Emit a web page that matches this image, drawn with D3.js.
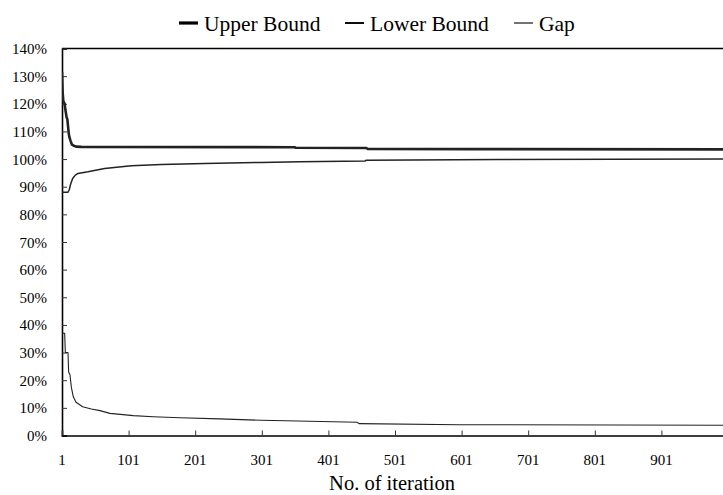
<!DOCTYPE html>
<html><head><meta charset="utf-8">
<script src="https://cdn.jsdelivr.net/npm/d3@7"></script>
<style>body{margin:0;background:#fff}svg{display:block}</style>
</head><body><svg id="c" width="723" height="495"></svg>
<script>
const yTicks = [0,10,20,30,40,50,60,70,80,90,100,110,120,130,140];
const xTicks = [1,101,201,301,401,501,601,701,801,901];
const seriesNames = ["Upper Bound","Lower Bound","Gap"];

const ubIter = [1,2,3,5,6,8,9,11,12,14,16,19,22,30,350,352,458,460,620,1001];
const ubVal  = [131.5,124,121,120,118,115,114.5,109.5,108,106.5,105.2,104.8,104.5,104.4,104.3,104.1,104.0,103.7,103.6,103.5];

const lbIter = [1,10,12,14,17,21,25,40,65,105,150,215,300,358,456,458,658,1001];
const lbVal  = [88,88,89,91,93,94.2,94.8,95.4,96.6,97.6,98.0,98.4,98.8,99.0,99.3,99.6,99.8,100];

const gapIter = [1,5,6,10,11,13,15,18,22,32,45,58,73,108,138,178,238,300,444,447,598,1001];
const gapVal  = [37,37,30,30,23,22,17.5,14,12,10.4,9.6,9,8,7.2,6.8,6.4,6.0,5.5,4.8,4.3,3.9,3.7];

const FONT = "'Liberation Serif', 'DejaVu Serif', serif";
const svg = d3.select("#c");
const L = 62, R = 723, T = 48.5, B = 435.5;
const x = d3.scaleLinear().domain([1,1001]).range([L, 728]);
const y = d3.scaleLinear().domain([0,140]).range([B, T]);

svg.append("defs").append("clipPath").attr("id","clip")
  .append("rect").attr("x",L).attr("y",T-5).attr("width",R-L).attr("height",B-T+5);

svg.append("line").attr("x1",L).attr("x2",R).attr("y1",T).attr("y2",T).attr("stroke","#000").attr("stroke-width",1.3);

const ya = svg.append("g").attr("transform",`translate(${L},0)`)
  .call(d3.axisRight(y).tickValues(yTicks).tickSize(5).tickFormat(""));
ya.select(".domain").attr("stroke","#000").attr("stroke-width",1.6);
ya.selectAll(".tick line").attr("stroke","#333");
svg.append("g").selectAll("text").data(yTicks).join("text")
  .attr("font-family",FONT).attr("fill","#000")
  .attr("x",47).attr("y",d=>y(d)+5.5).attr("text-anchor","end").attr("font-size",15).text(d=>d+"%");

const xa = svg.append("g").attr("transform",`translate(0,${B})`)
  .call(d3.axisTop(x).tickValues(xTicks).tickSize(5).tickFormat(""));
xa.select(".domain").attr("stroke","#000").attr("stroke-width",1.6);
xa.selectAll(".tick line").attr("stroke","#333");
svg.append("g").selectAll("text").data(xTicks).join("text")
  .attr("font-family",FONT).attr("fill","#000")
  .attr("x",d=>x(d)).attr("y",465).attr("text-anchor","middle").attr("font-size",15).text(d=>d);

svg.append("text").attr("font-family",FONT).attr("fill","#000")
  .attr("x",392).attr("y",489.5).attr("text-anchor","middle").attr("font-size",20.5).text("No. of iteration");

const line = d3.line().x(d=>x(d[0])).y(d=>y(d[1]));
const g = svg.append("g").attr("clip-path","url(#clip)");
const series = [
  {it:ubIter, v:ubVal, w:2.6, c:"#222"},
  {it:lbIter, v:lbVal, w:1.5, c:"#222"},
  {it:gapIter, v:gapVal, w:1.1, c:"#222"}
];
series.forEach(s=>{
  g.append("path").datum(s.it.map((d,i)=>[d,s.v[i]])).attr("d",line)
   .attr("fill","none").attr("stroke",s.c).attr("stroke-width",s.w).attr("stroke-linejoin","round");
});

const leg = [
  {name:seriesNames[0], x0:179, w:3.2},
  {name:seriesNames[1], x0:345, w:1.9},
  {name:seriesNames[2], x0:514, w:1.1}
];
leg.forEach(l=>{
  svg.append("line").attr("x1",l.x0).attr("x2",l.x0+19).attr("y1",23).attr("y2",23).attr("stroke","#000").attr("stroke-width",l.w);
  svg.append("text").attr("font-family",FONT).attr("fill","#000")
    .attr("x",l.x0+25).attr("y",31).attr("font-size",21.5).text(l.name);
});
</script></body></html>
